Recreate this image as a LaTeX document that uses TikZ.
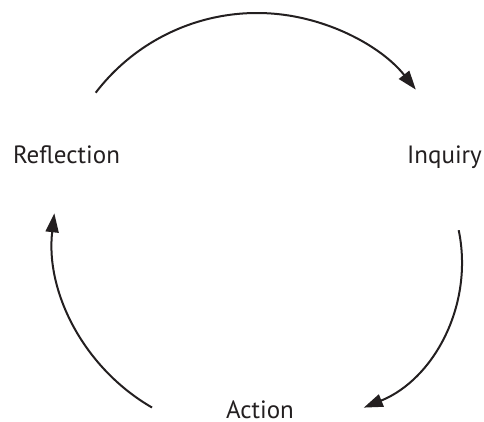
\documentclass[tikz,border=0pt]{standalone}
\usepackage{fontspec}
\setmainfont{PT Sans}
\usetikzlibrary{arrows.meta}
\definecolor{ink}{RGB}{35,31,32}
\begin{document}
\begin{tikzpicture}[x=1pt,y=-1pt,
  lbl/.style={anchor=base, inner sep=0pt, text=ink, font=\fontsize{25}{30}\selectfont},
  cyc/.style={draw=ink, line width=2pt, -{Triangle[length=19pt,width=13pt]}}]
\useasboundingbox (0,0) rectangle (484,421);
\node[lbl] (refl) at (66.5,163) {Reflection};
\node[lbl] (inq) at (444.5,163) {Inquiry};
\node[lbl] (act) at (260,418) {Action};
\coordinate (topS) at (95.7,92.7);
\coordinate (rightS) at (458.7,230.2);
\coordinate (leftS) at (152,407.5);
\draw[cyc] (topS) arc[start angle=-142.6, end angle=-38.5, radius=203];
\draw[cyc] (rightS) arc[start angle=-11.7, end angle=68, radius=157];
\draw[cyc] (leftS) arc[start angle=120, end angle=186.6, radius=198];
\end{tikzpicture}
\end{document}
